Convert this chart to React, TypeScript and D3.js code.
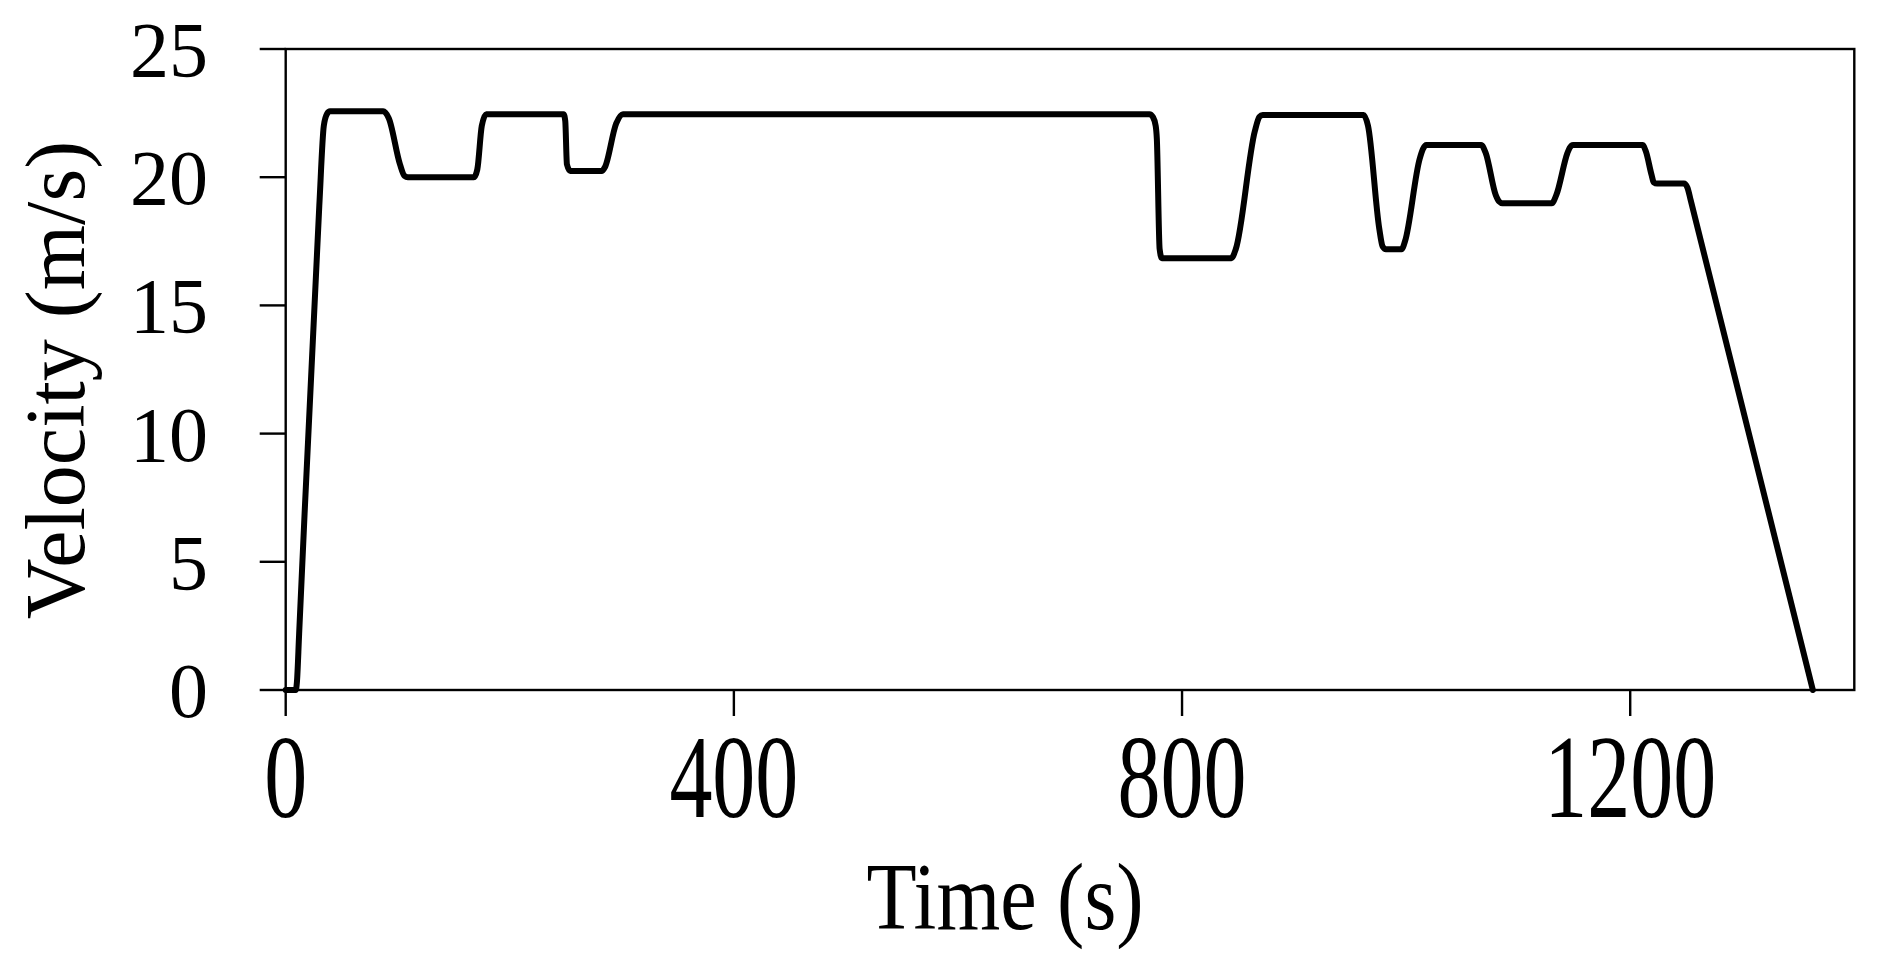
import React from "react";
import * as d3 from "d3";

const timeS: number[] = [
  0, 9, 10, 12, 30, 34, 37, 39.5,
  87, 92, 102, 106, 109,
  168, 171, 175, 179,
  248, 249.5, 251, 254,
  282, 285, 295, 301,
  771, 774, 776.5, 777.5, 780, 782,
  844, 848, 865, 869, 872,
  962, 966, 976, 979, 982,
  996, 999, 1012, 1015, 1018,
  1067, 1071, 1080, 1083, 1086,
  1130, 1134, 1144, 1146, 1149,
  1211, 1214, 1219, 1221, 1224,
  1248, 1251, 1254, 1258, 1310.5, 1363,
];
const velocity: number[] = [
  0, 0, 0.3, 2.2, 18.9, 22.0, 22.48, 22.57,
  22.57, 22.3, 20.5, 20.05, 20.0,
  20.0, 20.3, 22.0, 22.46,
  22.46, 22.2, 20.5, 20.24,
  20.24, 20.4, 22.1, 22.46,
  22.46, 22.35, 22.0, 21.5, 17.2, 16.84,
  16.84, 17.2, 21.8, 22.35, 22.43,
  22.43, 22.0, 18.0, 17.3, 17.19,
  17.19, 17.5, 20.7, 21.1, 21.26,
  21.26, 20.95, 19.3, 19.05, 18.98,
  18.98, 19.3, 20.95, 21.15, 21.26,
  21.26, 21.0, 20.1, 19.8, 19.75,
  19.75, 19.6, 19.1, 18.4, 9.2, 0,
];
const xTicks: number[] = [0, 400, 800, 1200];
const yTicks: number[] = [0, 5, 10, 15, 20, 25];
const xLabel = "Time (s)";
const yLabel = "Velocity (m/s)";

export default function App() {
  const W = 1880, H = 959;
  const left = 285.7, right = 1854.3, top = 49, bottom = 690;
  const x = d3.scaleLinear().domain([0, 1400]).range([left, right]);
  const y = d3.scaleLinear().domain([0, 25]).range([bottom, top]);
  const pts = timeS.map((t, i) => [t, velocity[i]] as [number, number]);
  const line = d3
    .line<[number, number]>()
    .x((d) => x(d[0]))
    .y((d) => y(d[1]))
    .curve(d3.curveMonotoneX);
  const font = "'Liberation Serif', 'Times New Roman', serif";
  return (
    <div style={{ position: "absolute", left: 0, top: 0 }}>
      <svg width={W} height={H} style={{ display: "block", background: "#fff" }}>
        <rect x={0} y={0} width={W} height={H} fill="#fff" />
        <rect
          x={left}
          y={top}
          width={right - left}
          height={bottom - top}
          fill="none"
          stroke="#000"
          strokeWidth={2.4}
        />
        {yTicks.map((v) => (
          <g key={"y" + v}>
            <line x1={left - 26} x2={left} y1={y(v)} y2={y(v)} stroke="#000" strokeWidth={2.4} />
            <text
              x={208}
              y={y(v) + 27}
              textAnchor="end"
              fontFamily={font}
              fontSize={78}
              fill="#000"
            >
              {v}
            </text>
          </g>
        ))}
        {xTicks.map((t) => (
          <g key={"x" + t}>
            <line x1={x(t)} x2={x(t)} y1={bottom} y2={bottom + 26} stroke="#000" strokeWidth={2.4} />
            <text
              transform={`translate(${x(t)},817) scale(1,1.38)`}
              textAnchor="middle"
              fontFamily={font}
              fontSize={86}
              fill="#000"
            >
              {t}
            </text>
          </g>
        ))}
        <text
          transform={`translate(1005,929) scale(1,1.16)`}
          textAnchor="middle"
          fontFamily={font}
          fontSize={82}
          fill="#000"
        >
          {xLabel}
        </text>
        <text
          transform={`translate(84,380) rotate(-90)`}
          textAnchor="middle"
          fontFamily={font}
          fontSize={84}
          fill="#000"
        >
          {yLabel}
        </text>
        <path
          d={line(pts) || ""}
          fill="none"
          stroke="#000"
          strokeWidth={6}
          strokeLinejoin="round"
          strokeLinecap="round"
        />
      </svg>
    </div>
  );
}
